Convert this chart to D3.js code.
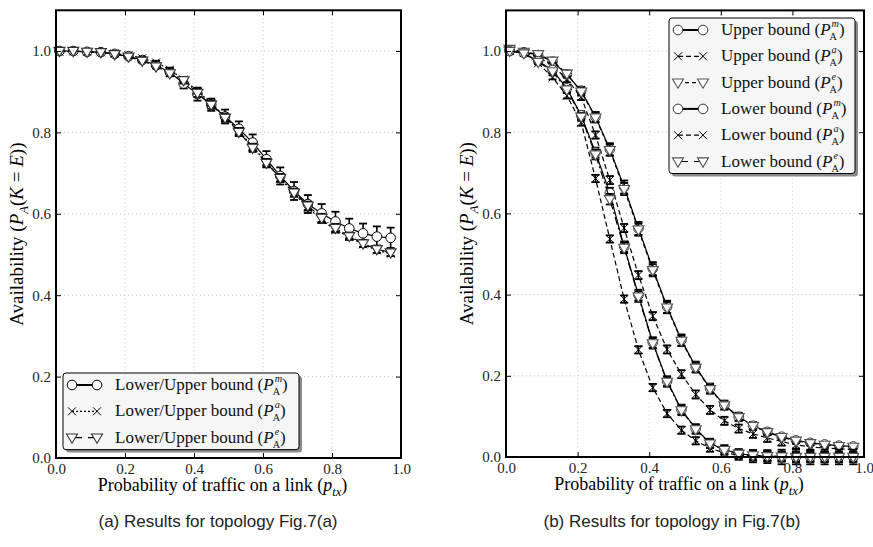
<!DOCTYPE html>
<html>
<head>
<meta charset="utf-8">
<script src="https://cdn.jsdelivr.net/npm/d3@7"></script>
<style>
  body { margin: 0; background: #fff; }
  svg { display: block; }
</style>
</head>
<body>
<div id="chart"></div>
<script>
// probability of traffic on a link (shared x values for every series)
const xVals = [0.01, 0.05, 0.09, 0.13, 0.17, 0.21, 0.25, 0.29, 0.33, 0.37, 0.41, 0.45, 0.49,
               0.53, 0.57, 0.61, 0.65, 0.69, 0.73, 0.77, 0.81, 0.85, 0.89, 0.93, 0.97];
const xTicks = [0.0, 0.2, 0.4, 0.6, 0.8, 1.0];
const yTicks = [0.0, 0.2, 0.4, 0.6, 0.8, 1.0];

// (a) topology Fig.7(a)
const leftM = [1.000, 1.000, 0.998, 0.997, 0.993, 0.987, 0.978, 0.965, 0.948, 0.920, 0.894, 0.868, 0.839,
               0.809, 0.775, 0.734, 0.693, 0.656, 0.624, 0.601, 0.581, 0.564, 0.552, 0.544, 0.541];
const leftMErr = [0, 0, 0, 0, 0, 0.003, 0.005, 0.007, 0.010, 0.012, 0.016, 0.015, 0.017,
                  0.018, 0.020, 0.020, 0.021, 0.022, 0.022, 0.023, 0.024, 0.024, 0.024, 0.025, 0.025];
const leftA = [0.998, 0.999, 0.998, 0.997, 0.994, 0.990, 0.982, 0.972, 0.954, 0.930, 0.902, 0.872, 0.838,
               0.803, 0.765, 0.727, 0.687, 0.650, 0.615, 0.585, 0.560, 0.543, 0.525, 0.510, 0.502];
const leftAErr = [0, 0, 0, 0, 0, 0.002, 0.003, 0.004, 0.005, 0.006, 0.006, 0.006, 0.007,
                  0.007, 0.007, 0.007, 0.007, 0.007, 0.007, 0.007, 0.006, 0.006, 0.006, 0.006, 0.006];
const leftE = [1.000, 1.000, 0.998, 0.997, 0.992, 0.986, 0.976, 0.962, 0.945, 0.928, 0.897, 0.868, 0.836,
               0.801, 0.762, 0.725, 0.688, 0.652, 0.620, 0.590, 0.565, 0.545, 0.527, 0.513, 0.505];
const leftEErr = [0, 0, 0, 0, 0, 0.003, 0.004, 0.005, 0.007, 0.008, 0.010, 0.010, 0.010,
                  0.010, 0.010, 0.010, 0.010, 0.010, 0.010, 0.010, 0.010, 0.009, 0.009, 0.009, 0.009];

// (b) topology Fig.7(b)
const rUpperM = [1.000, 0.997, 0.990, 0.974, 0.942, 0.902, 0.838, 0.758, 0.665, 0.563, 0.464, 0.370, 0.288,
                 0.222, 0.169, 0.128, 0.099, 0.077, 0.062, 0.050, 0.041, 0.035, 0.031, 0.028, 0.026];
const rUpperMErr = [0, 0, 0.003, 0.005, 0.008, 0.010, 0.012, 0.015, 0.016, 0.016, 0.016, 0.015, 0.014,
                    0.013, 0.012, 0.011, 0.010, 0.009, 0.008, 0.007, 0.006, 0.006, 0.005, 0.005, 0.005];
const rUpperA = [1.000, 0.997, 0.985, 0.965, 0.930, 0.887, 0.793, 0.682, 0.564, 0.448, 0.347, 0.265, 0.204,
                 0.154, 0.116, 0.089, 0.070, 0.057, 0.047, 0.038, 0.030, 0.025, 0.022, 0.020, 0.018];
const rUpperAErr = [0, 0, 0.003, 0.005, 0.007, 0.008, 0.009, 0.010, 0.010, 0.010, 0.010, 0.010, 0.010,
                    0.010, 0.010, 0.010, 0.010, 0.010, 0.010, 0.010, 0.009, 0.009, 0.009, 0.009, 0.009];
const rUpperE = [1.005, 0.998, 0.992, 0.976, 0.944, 0.900, 0.836, 0.756, 0.660, 0.560, 0.460, 0.368, 0.286,
                 0.220, 0.167, 0.127, 0.098, 0.076, 0.061, 0.049, 0.040, 0.034, 0.030, 0.027, 0.025];
const rUpperEErr = [0, 0, 0.003, 0.005, 0.008, 0.010, 0.012, 0.014, 0.015, 0.015, 0.015, 0.014, 0.013,
                    0.012, 0.011, 0.010, 0.009, 0.008, 0.007, 0.006, 0.006, 0.005, 0.005, 0.005, 0.005];
const rLowerM = [1.000, 0.995, 0.975, 0.953, 0.908, 0.842, 0.750, 0.650, 0.518, 0.399, 0.282, 0.187, 0.117,
                 0.070, 0.034, 0.018, 0.008, 0.004, 0.002, 0.001, 0.000, 0.000, 0.000, 0.000, 0.000];
const rLowerMErr = [0, 0, 0.003, 0.005, 0.008, 0.010, 0.012, 0.013, 0.013, 0.013, 0.013, 0.012, 0.012,
                    0.011, 0.011, 0.011, 0.011, 0.012, 0.012, 0.012, 0.012, 0.012, 0.012, 0.012, 0.012];
const rLowerA = [1.000, 0.995, 0.970, 0.935, 0.890, 0.824, 0.686, 0.537, 0.389, 0.264, 0.171, 0.107, 0.066,
                 0.040, 0.022, 0.010, 0.005, 0.002, 0.001, 0.000, 0.000, 0.000, 0.000, 0.000, 0.000];
const rLowerAErr = [0, 0, 0.003, 0.005, 0.007, 0.008, 0.009, 0.009, 0.009, 0.009, 0.009, 0.009, 0.009,
                    0.009, 0.009, 0.010, 0.012, 0.015, 0.016, 0.018, 0.018, 0.018, 0.018, 0.018, 0.018];
const rLowerE = [1.000, 0.994, 0.973, 0.950, 0.905, 0.838, 0.745, 0.635, 0.515, 0.395, 0.280, 0.185, 0.115,
                 0.068, 0.033, 0.017, 0.008, 0.004, 0.002, 0.001, 0.000, 0.000, 0.000, 0.000, 0.000];
const rLowerEErr = [0, 0, 0.003, 0.005, 0.008, 0.010, 0.012, 0.013, 0.013, 0.013, 0.013, 0.012, 0.012,
                    0.011, 0.011, 0.011, 0.011, 0.012, 0.012, 0.012, 0.012, 0.012, 0.012, 0.012, 0.012];

const captions = ["(a)  Results for topology Fig.7(a)", "(b)  Results for topology in Fig.7(b)"];

const W = 873, H = 547;
const serif = "'Liberation Serif', 'DejaVu Serif', serif";
const sans = "'Liberation Sans', 'DejaVu Sans', sans-serif";

const svg = d3.select("#chart").append("svg")
    .attr("width", W).attr("height", H)
    .attr("font-family", serif);

// pieces of "P_A^x" math drawn with tspans, sub and sup stacked
function appendPA(text, sup, fs) {
    const ss = fs * 0.6, up = fs * 0.46, down = fs * 0.3;
    text.append("tspan").attr("font-style", "italic").text("P");
    const s = text.append("tspan").attr("font-size", ss).attr("font-style", "italic")
        .attr("dx", 1).attr("dy", -up).text(sup);
    const sw = s.node().getComputedTextLength() + 1;
    const b = text.append("tspan").attr("font-size", ss)
        .attr("dx", -sw - 1).attr("dy", up + down).text("A");
    const bw = b.node().getComputedTextLength() - 1;
    return { back: -down, extra: Math.max(0, sw - bw) };
}

function markerPath(kind) {
    if (kind === "tri") return "M-5.5,-3.6L5.5,-3.6L0,5.6Z";
    if (kind === "x") return "M-4,-4L4,4M-4,4L4,-4";
    return null;
}

function drawMarker(g, kind, x, y, stroke) {
    if (kind === "circle") {
        g.append("circle").attr("cx", x).attr("cy", y).attr("r", 4.8)
            .attr("fill", "#fff").attr("stroke", stroke).attr("stroke-width", 1);
    } else {
        g.append("path").attr("d", markerPath(kind)).attr("transform", `translate(${x},${y})`)
            .attr("fill", kind === "tri" ? "#fff" : "none")
            .attr("stroke", stroke).attr("stroke-width", kind === "tri" ? 1.1 : 1);
    }
}

function drawPanel(p) {
    const x = d3.scaleLinear().domain([0, 1]).range([p.left, p.right]);
    const y = d3.scaleLinear().domain([0, 1.1]).range([p.bottom, p.top]);
    const g = svg.append("g");

    // dotted grid
    g.append("g").selectAll("line").data(xTicks.slice(1, -1)).join("line")
        .attr("x1", d => x(d)).attr("x2", d => x(d)).attr("y1", p.top).attr("y2", p.bottom)
        .attr("stroke", "#c8c8c8").attr("stroke-dasharray", "1,3");
    g.append("g").selectAll("line").data(yTicks.slice(1)).join("line")
        .attr("y1", d => y(d)).attr("y2", d => y(d)).attr("x1", p.left).attr("x2", p.right)
        .attr("stroke", "#c8c8c8").attr("stroke-dasharray", "1,3");

    // series: lines, error bars, markers
    p.series.forEach(s => {
        const pts = xVals.map((v, i) => [v, s.values[i], s.err[i]]);
        const line = d3.line().x(d => x(d[0])).y(d => y(d[1]));
        g.append("path").datum(pts).attr("d", line).attr("fill", "none")
            .attr("stroke", "#000").attr("stroke-width", 1.2)
            .attr("stroke-dasharray", s.dash);
        const eb = g.append("g").attr("stroke", "#000");
        pts.filter(d => d[2] > 0).forEach(d => {
            const cx = x(d[0]), y1 = y(d[1] - d[2]), y2 = y(d[1] + d[2]);
            eb.append("line").attr("x1", cx).attr("x2", cx).attr("y1", y1).attr("y2", y2).attr("stroke-width", 1.6);
            eb.append("line").attr("x1", cx - 4).attr("x2", cx + 4).attr("y1", y1).attr("y2", y1).attr("stroke-width", 1.8);
            eb.append("line").attr("x1", cx - 4).attr("x2", cx + 4).attr("y1", y2).attr("y2", y2).attr("stroke-width", 1.8);
        });
        const mg = g.append("g");
        pts.forEach(d => drawMarker(mg, s.marker, x(d[0]), y(d[1]), s.stroke));
    });

    // axes with inward ticks on all sides
    const fmt = d3.format(".1f");
    const ax = [
        g.append("g").attr("transform", `translate(0,${p.bottom})`)
            .call(d3.axisBottom(x).tickValues(xTicks).tickSize(-5).tickPadding(5).tickFormat(fmt)),
        g.append("g").attr("transform", `translate(0,${p.top})`)
            .call(d3.axisTop(x).tickValues(xTicks).tickSize(-5).tickFormat("")),
        g.append("g").attr("transform", `translate(${p.left},0)`)
            .call(d3.axisLeft(y).tickValues(yTicks).tickSize(-5).tickPadding(5).tickFormat(fmt)),
        g.append("g").attr("transform", `translate(${p.right},0)`)
            .call(d3.axisRight(y).tickValues(yTicks).tickSize(-5).tickFormat(""))
    ];
    ax.forEach(a => {
        a.attr("font-family", serif).attr("font-size", 15);
        a.select(".domain").remove();
        a.selectAll(".tick line").attr("stroke", "#000").attr("stroke-width", 1);
        a.selectAll("text").attr("fill", "#222");
    });

    g.append("rect").attr("x", p.left).attr("y", p.top)
        .attr("width", p.right - p.left).attr("height", p.bottom - p.top)
        .attr("fill", "none").attr("stroke", "#000").attr("stroke-width", 2);

    // legend
    const lg = p.legend;
    const rows = p.series.length;
    const lh = 26.3;
    const bh = 11 + (rows - 1) * lh + 13;
    const leg = g.append("g");
    leg.append("rect").attr("x", lg.x + 3).attr("y", lg.y + 3).attr("width", lg.w).attr("height", bh)
        .attr("rx", 3).attr("fill", "#8a8a8a");
    leg.append("rect").attr("x", lg.x).attr("y", lg.y).attr("width", lg.w).attr("height", bh)
        .attr("rx", 3).attr("fill", "#f5f6f5").attr("stroke", "#000").attr("stroke-width", 1);
    p.series.forEach((s, i) => {
        const ry = lg.y + 12 + i * lh;
        const m1 = lg.x + 9, m2 = lg.x + 34;
        leg.append("line").attr("x1", m1).attr("x2", m2).attr("y1", ry).attr("y2", ry)
            .attr("stroke", "#000").attr("stroke-width", s.marker === "circle" ? 2 : 1.2)
            .attr("stroke-dasharray", s.legendDash || s.dash);
        drawMarker(leg, s.marker, m1, ry, s.stroke);
        drawMarker(leg, s.marker, m2, ry, s.stroke);
        const t = leg.append("text").attr("x", lg.x + 52).attr("y", ry + 5)
            .attr("font-size", 17).attr("fill", "#111");
        t.append("tspan").text(s.label + " (");
        const r = appendPA(t, s.sup, 17);
        t.append("tspan").attr("dy", r.back).attr("dx", r.extra).text(")");
    });

    // y label: Availability (P_A(K=E))
    const fs = 18;
    const yl = g.append("text").attr("font-size", fs + 1).attr("text-anchor", "middle")
        .attr("transform", `translate(${p.left - 33},${(p.top + p.bottom) / 2}) rotate(-90)`);
    yl.append("tspan").text("Availability (");
    yl.append("tspan").attr("font-style", "italic").text("P");
    yl.append("tspan").attr("font-size", fs * 0.7).attr("font-style", "italic").attr("dy", fs * 0.26).text("A");
    yl.append("tspan").attr("dy", -fs * 0.26).text("(");
    yl.append("tspan").attr("font-style", "italic").text("K");
    yl.append("tspan").text(" = ");
    yl.append("tspan").attr("font-style", "italic").text("E");
    yl.append("tspan").text("))");

    // x label: Probability of traffic on a link (p_tx)
    const xl = g.append("text").attr("font-size", fs).attr("text-anchor", "middle")
        .attr("x", (p.left + p.right) / 2 - 6).attr("y", p.bottom + 33);
    xl.append("tspan").text("Probability of traffic on a link (");
    xl.append("tspan").attr("font-style", "italic").text("p");
    xl.append("tspan").attr("font-size", fs * 0.7).attr("font-style", "italic").attr("dy", fs * 0.26).text("tx");
    xl.append("tspan").attr("dy", -fs * 0.26).text(")");

    g.append("text").attr("font-family", sans).attr("font-size", 17).attr("fill", "#222")
        .attr("text-anchor", "middle").attr("x", p.captionX).attr("y", 527).text(p.caption);
}

drawPanel({
    left: 56, right: 401, top: 10.3, bottom: 458,
    caption: captions[0], captionX: 218,
    legend: { x: 63, y: 373, w: 236 },
    series: [
        { label: "Lower/Upper bound", sup: "m", values: leftM, err: leftMErr, marker: "circle", stroke: "#000", dash: null },
        { label: "Lower/Upper bound", sup: "a", values: leftA, err: leftAErr, marker: "x", stroke: "#000", dash: "2,2" },
        { label: "Lower/Upper bound", sup: "e", values: leftE, err: leftEErr, marker: "tri", stroke: "#333", dash: "7,3,1,3", legendDash: "10,6" }
    ]
});

drawPanel({
    left: 506, right: 864, top: 10.4, bottom: 457,
    caption: captions[1], captionX: 672,
    legend: { x: 669, y: 18, w: 186 },
    series: [
        { label: "Upper bound", sup: "m", values: rUpperM, err: rUpperMErr, marker: "circle", stroke: "#333", dash: null },
        { label: "Upper bound", sup: "a", values: rUpperA, err: rUpperAErr, marker: "x", stroke: "#000", dash: "5,3" },
        { label: "Upper bound", sup: "e", values: rUpperE, err: rUpperEErr, marker: "tri", stroke: "#555", dash: "4,3" },
        { label: "Lower bound", sup: "m", values: rLowerM, err: rLowerMErr, marker: "circle", stroke: "#333", dash: null },
        { label: "Lower bound", sup: "a", values: rLowerA, err: rLowerAErr, marker: "x", stroke: "#000", dash: "5,3" },
        { label: "Lower bound", sup: "e", values: rLowerE, err: rLowerEErr, marker: "tri", stroke: "#555", dash: "8,3,2,3", legendDash: "10,6" }
    ]
});
</script>
</body>
</html>
